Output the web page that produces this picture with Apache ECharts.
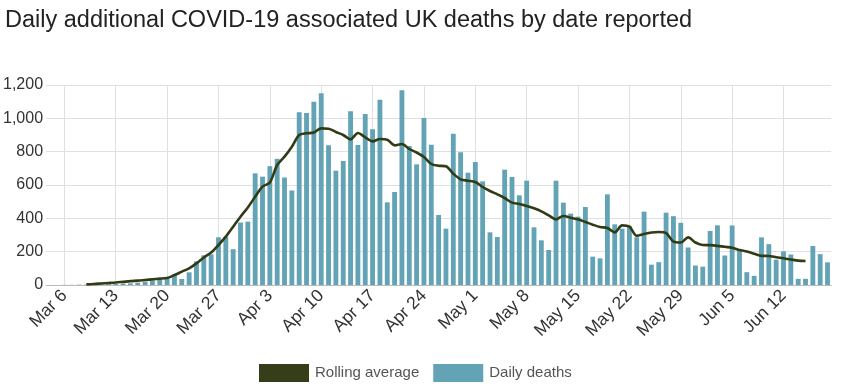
<!DOCTYPE html>
<html>
<head>
<meta charset="utf-8">
<script src="https://cdn.jsdelivr.net/npm/echarts@6/dist/echarts.min.js"></script>
<style>
html,body{margin:0;padding:0;background:#fff;}
#chart{width:849px;height:387px;}
</style>
</head>
<body>
<div id="chart"></div>
<script>
// Dates (categories), Mar 4 .. Jun 18
const categories = [
"Mar 4","Mar 5","Mar 6","Mar 7","Mar 8","Mar 9","Mar 10","Mar 11","Mar 12","Mar 13","Mar 14","Mar 15","Mar 16","Mar 17","Mar 18","Mar 19","Mar 20","Mar 21","Mar 22","Mar 23","Mar 24","Mar 25","Mar 26","Mar 27","Mar 28","Mar 29","Mar 30","Mar 31",
"Apr 1","Apr 2","Apr 3","Apr 4","Apr 5","Apr 6","Apr 7","Apr 8","Apr 9","Apr 10","Apr 11","Apr 12","Apr 13","Apr 14","Apr 15","Apr 16","Apr 17","Apr 18","Apr 19","Apr 20","Apr 21","Apr 22","Apr 23","Apr 24","Apr 25","Apr 26","Apr 27","Apr 28","Apr 29","Apr 30",
"May 1","May 2","May 3","May 4","May 5","May 6","May 7","May 8","May 9","May 10","May 11","May 12","May 13","May 14","May 15","May 16","May 17","May 18","May 19","May 20","May 21","May 22","May 23","May 24","May 25","May 26","May 27","May 28","May 29","May 30","May 31",
"Jun 1","Jun 2","Jun 3","Jun 4","Jun 5","Jun 6","Jun 7","Jun 8","Jun 9","Jun 10","Jun 11","Jun 12","Jun 13","Jun 14","Jun 15","Jun 16","Jun 17","Jun 18"
];

// Daily deaths, Mar 4 .. Jun 18
const dailyDeaths = [
null,null,1,1,2,2,3,3,5,6,8,10,14,20,26,32,38,60,36,76,142,178,184,286,290,215,375,380,
670,650,713,757,645,567,1036,1032,1100,1150,838,686,744,1042,840,1026,934,1112,496,558,1168,834,724,1002,842,420,338,908,796,674,
738,622,316,288,692,648,538,626,346,268,210,626,494,428,410,468,170,160,544,364,338,355,286,440,122,137,434,413,373,225,117,
110,324,358,177,357,204,77,55,286,245,152,202,183,37,37,234,185,136
];

// Rolling average, Mar 4 .. Jun 18 (drawn Mar 9 .. Jun 15)
const rollingAverage = [
null,null,null,null,null,4,6,9,12,15,19,23,26,30,34,38,42,60,80,100,130,165,195,240,290,350,410,465,
530,590,615,720,770,830,900,910,915,940,938,918,900,874,912,886,862,876,872,838,846,816,795,768,726,716,712,668,634,626,
618,588,564,544,522,494,486,474,460,442,418,394,414,404,394,378,362,348,342,316,358,350,295,306,315,318,312,260,255,286,255,
240,239,235,229,224,210,201,188,175,174,167,160,153,146,144,null,null,null
];

const yTicks = [0, 200, 400, 600, 800, 1000, 1200];

const chart = echarts.init(document.getElementById('chart'), null, {renderer: 'canvas'});
const firstLabel = 2;
const weekly = (idx) => idx >= firstLabel && (idx - firstLabel) % 7 === 0;

chart.setOption({
  animation: false,
  textStyle: {fontFamily: 'Liberation Sans, Arial, sans-serif'},
  title: {
    text: 'Daily additional COVID-19 associated UK deaths by date reported',
    left: 0, top: 4,
    textStyle: {fontSize: 23.5, fontWeight: 'normal', color: '#222', fontFamily: 'Liberation Sans, Arial, sans-serif'}
  },
  legend: {
    left: 254, top: 359,
    itemWidth: 50, itemHeight: 18, itemGap: 14,
    icon: 'rect',
    textStyle: {fontSize: 15, color: '#555', padding: [0,0,0,1]},
    data: ['Rolling average', 'Daily deaths']
  },
  grid: {left: 42.6, right: 17.8, top: 85, bottom: 102, containLabel: false},
  xAxis: {
    type: 'category',
    data: categories,
    boundaryGap: true,
    axisLine: {show: true, lineStyle: {color: '#bbb', width: 1}},
    axisTick: {show: false, interval: weekly, alignWithLabel: true},
    axisLabel: {interval: weekly, rotate: 45, fontSize: 17.5, color: '#333', margin: 8},
    splitLine: {show: true, interval: weekly, alignWithLabel: true, lineStyle: {color: '#e0e0e0', width: 1}}
  },
  yAxis: {
    type: 'value',
    min: yTicks[0], max: yTicks[yTicks.length - 1], interval: 200,
    axisLine: {show: false},
    axisTick: {show: false},
    axisLabel: {fontSize: 16, color: '#333', margin: 3,
      formatter: (v) => v.toLocaleString('en-GB')},
    splitLine: {lineStyle: {color: '#e0e0e0', width: 1}}
  },
  series: [
    {
      name: 'Daily deaths',
      type: 'bar',
      data: dailyDeaths,
      barWidth: '66%',
      itemStyle: {color: '#62a3b5'},
      z: 2
    },
    {
      name: 'Rolling average',
      type: 'line',
      data: rollingAverage,
      smooth: 0.3,
      showSymbol: false,
      symbol: 'none',
      connectNulls: false,
      lineStyle: {color: '#313c15', width: 2.6},
      itemStyle: {color: '#353e18'},
      z: 3
    }
  ]
});
</script>
</body>
</html>
